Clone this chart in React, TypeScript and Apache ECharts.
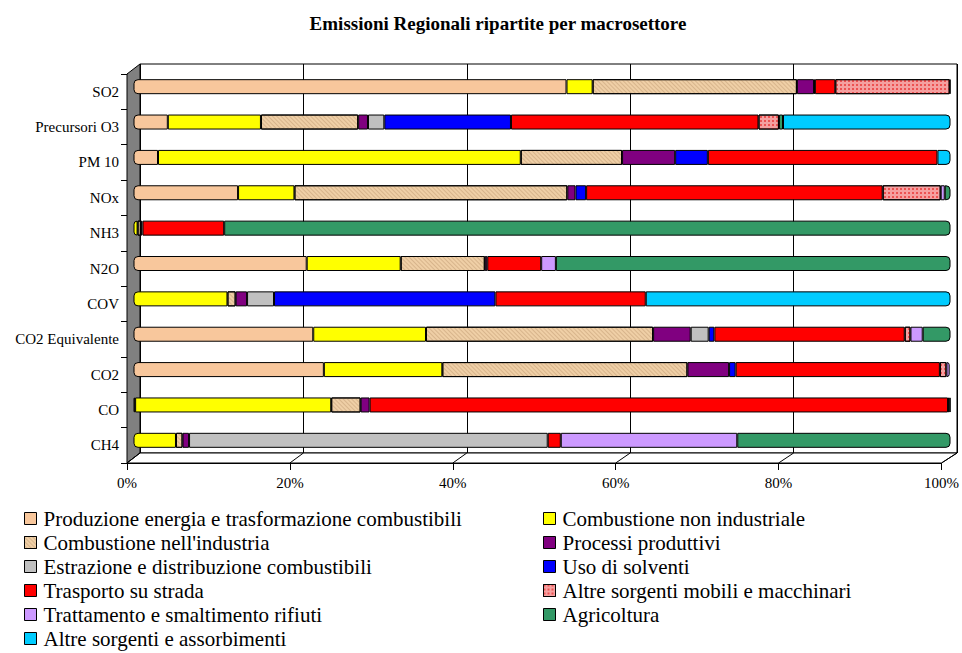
import React, { useEffect, useRef } from 'react';
import * as echarts from 'echarts';

const categories = ['SO2', 'Precursori O3', 'PM 10', 'NOx', 'NH3', 'N2O', 'COV', 'CO2 Equivalente', 'CO2', 'CO', 'CH4'];

const seriesNames = [
  'Produzione energia e trasformazione combustibili',
  'Combustione non industriale',
  "Combustione nell'industria",
  'Processi produttivi',
  'Estrazione e distribuzione combustibili',
  'Uso di solventi',
  'Trasporto su strada',
  'Altre sorgenti mobili e macchinari',
  'Trattamento e smaltimento rifiuti',
  'Agricoltura',
  'Altre sorgenti e assorbimenti',
];

// percentages per category (same order as categories)
const produzioneEnergia = [53.0, 4.2, 3.0, 12.8, 0, 21.2, 0, 22.0, 23.3, 0.2, 0];
const combustioneNonInd = [3.2, 11.4, 44.4, 6.9, 0.5, 11.5, 11.5, 13.8, 14.5, 24.0, 5.2];
const combustioneInd = [25.0, 11.9, 12.4, 33.4, 0.4, 10.3, 1.0, 27.8, 30.0, 3.6, 0.8];
const processiProduttivi = [2.1, 1.2, 6.5, 1.0, 0.2, 0.3, 1.4, 4.6, 5.1, 1.1, 0.8];
const estrazione = [0, 2.0, 0, 0, 0, 0, 3.3, 2.2, 0, 0, 43.9];
const solventi = [0.1, 15.5, 4.0, 1.3, 0, 0, 27.1, 0.7, 0.8, 0, 0];
const trasporto = [2.5, 30.3, 28.1, 36.3, 10.0, 6.6, 18.4, 23.3, 25.0, 70.8, 1.6];
const altreMobili = [14.0, 2.5, 0, 7.1, 0, 0, 0, 0.7, 0.8, 0, 0];
const rifiuti = [0, 0, 0, 0.5, 0, 1.8, 0, 1.5, 0.4, 0, 21.6];
const agricoltura = [0, 0.5, 0, 0.7, 88.9, 48.3, 0, 3.4, 0, 0.2, 26.1];
const altreSorgenti = [0.1, 20.5, 1.6, 0, 0, 0, 37.3, 0, 0, 0.1, 0];

const seriesValues = [
  produzioneEnergia, combustioneNonInd, combustioneInd, processiProduttivi, estrazione,
  solventi, trasporto, altreMobili, rifiuti, agricoltura, altreSorgenti,
];

const colors = ['#F8C79C', '#FFFF00', '#EFCFA6', '#800080', '#C0C0C0', '#0000FF', '#FF0000', '#F5A0A0', '#CC99FF', '#339966', '#00CCFF'];

const xTicks = [0, 20, 40, 60, 80, 100];

const FONT = 'Liberation Serif';

// 3D frame layout
const FRONT = { left: 127, top: 74, width: 817, height: 389 };
const DX = 13;
const DY = -10;

export default function App() {
  const ref = useRef<HTMLDivElement>(null);
  useEffect(() => {
    if (!ref.current) return;
    const chart = echarts.init(ref.current, null, { renderer: 'svg' });

    const series = seriesValues.map((vals, si) => ({
      name: seriesNames[si],
      type: 'bar',
      stack: 'total',
      xAxisIndex: 1,
      yAxisIndex: 1,
      barWidth: 15,
      itemStyle: {
        color: colors[si],
        borderColor: '#000',
        borderWidth: 1,
        decal: si === 2
          ? { symbol: 'rect', symbolSize: 1, color: 'rgba(170,130,90,0.35)', dashArrayX: [1, 0], dashArrayY: [1, 2], rotation: Math.PI / 4 }
          : si === 7
            ? { symbol: 'rect', symbolSize: 1, color: 'rgba(230,30,30,0.6)', dashArrayX: [2, 2], dashArrayY: [2, 2], rotation: 0 }
            : 'none',
      },
      data: vals.map((v, ci) => {
        if (!(v > 0)) return '-';
        let first = true;
        let last = true;
        for (let k = 0; k < si; k++) if (seriesValues[k][ci] > 0) first = false;
        for (let k = si + 1; k < seriesValues.length; k++) if (seriesValues[k][ci] > 0) last = false;
        const r = [first ? 4 : 0, last ? 4 : 0, last ? 4 : 0, first ? 4 : 0];
        return { value: v, itemStyle: { borderRadius: r } };
      }),
    }));

    const legendCommon = {
      orient: 'vertical', top: 508, padding: 0, height: 150,
      itemWidth: 12, itemHeight: 12, itemGap: 3, icon: 'rect',
      itemStyle: { borderColor: '#000', borderWidth: 1 },
      textStyle: { fontFamily: FONT, fontSize: 21, lineHeight: 20.5, color: '#000', padding: [0, 0, 0, 2] },
      selectedMode: false,
    };

    const option: any = {
      animation: false,
      backgroundColor: '#fff',
      title: {
        text: 'Emissioni Regionali ripartite per macrosettore',
        left: 493,
        top: 9,
        textAlign: 'center',
        textStyle: { fontFamily: FONT, fontSize: 19, fontWeight: 'bold', color: '#000' },
      },
      grid: [
        { left: FRONT.left + DX, top: FRONT.top + DY, width: FRONT.width, height: FRONT.height, show: true, borderColor: '#000', borderWidth: 1, backgroundColor: 'transparent' },
        { left: FRONT.left + DX / 2, top: FRONT.top + DY / 2, width: FRONT.width, height: FRONT.height },
        { left: FRONT.left, top: FRONT.top, width: FRONT.width, height: FRONT.height },
      ],
      xAxis: [
        { gridIndex: 0, type: 'value', min: 0, max: 100, interval: 20, axisLabel: { show: false }, axisLine: { show: false }, axisTick: { show: false }, splitLine: { show: true, lineStyle: { color: '#000', width: 1 } } },
        { gridIndex: 1, type: 'value', min: 0, max: 100, show: false },
        {
          gridIndex: 2, type: 'value', min: 0, max: 100, interval: 20,
          axisLine: { show: true, lineStyle: { color: '#000' } },
          axisTick: { show: true, length: 7, lineStyle: { color: '#000' } },
          splitLine: { show: false },
          axisLabel: { formatter: '{value}%', margin: 12, fontFamily: FONT, fontSize: 15, color: '#000' },
        },
      ],
      yAxis: [
        { gridIndex: 0, type: 'category', data: categories, inverse: true, show: false },
        { gridIndex: 1, type: 'category', data: categories, inverse: true, show: false },
        {
          gridIndex: 2, type: 'category', data: categories, inverse: true,
          axisLine: { show: true, lineStyle: { color: '#000' } },
          axisTick: { show: true, length: 6, lineStyle: { color: '#000' } },
          axisLabel: { margin: 8, fontFamily: FONT, fontSize: 15, color: '#000' },
        },
      ],
      legend: [
        { ...legendCommon, data: seriesNames.filter((_, i) => i % 2 === 0), left: 24 },
        { ...legendCommon, data: seriesNames.filter((_, i) => i % 2 === 1), left: 543 },
      ],
      series,
    };
    chart.setOption(option);

    // 3D frame: side wall, floor and floor tick diagonals, placed via axis scales
    const fx0 = chart.convertToPixel({ xAxisIndex: 2 }, 0) as number;
    const fx1 = chart.convertToPixel({ xAxisIndex: 2 }, 100) as number;
    const bx0 = chart.convertToPixel({ xAxisIndex: 0 }, 0) as number;
    const bx1 = chart.convertToPixel({ xAxisIndex: 0 }, 100) as number;
    const fTop = FRONT.top;
    const fBot = FRONT.top + FRONT.height;
    const bTop = fTop + DY;
    const bBot = fBot + DY;
    const graphics: any[] = [
      { type: 'polygon', z: 1, shape: { points: [[fx0, fTop], [bx0, bTop], [bx0, bBot], [fx0, fBot]] }, style: { fill: '#808080', stroke: '#000', lineWidth: 1 } },
      { type: 'polygon', z: 1, shape: { points: [[fx0, fBot], [bx0, bBot], [bx1, bBot], [fx1, fBot]] }, style: { fill: '#fff', stroke: '#000', lineWidth: 1 } },
    ];
    xTicks.forEach((t) => {
      const xf = chart.convertToPixel({ xAxisIndex: 2 }, t) as number;
      const xb = chart.convertToPixel({ xAxisIndex: 0 }, t) as number;
      graphics.push({ type: 'line', z: 1, shape: { x1: xf, y1: fBot, x2: xb, y2: bBot }, style: { stroke: '#000', lineWidth: 1 } });
    });
    chart.setOption({ graphic: graphics });

    return () => chart.dispose();
  }, []);
  return <div ref={ref} style={{ position: 'absolute', left: 0, top: 0, width: 962, height: 653 }} />;
}
